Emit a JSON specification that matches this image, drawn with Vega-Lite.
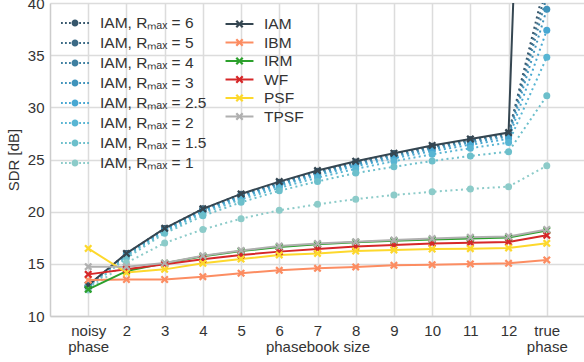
{
  "$schema": "https://vega.github.io/schema/vega-lite/v6.json",
  "width": 535,
  "height": 313,
  "autosize": "none",
  "padding": {"left": 50, "top": 3, "right": 0, "bottom": 46},
  "background": "white",
  "config": {
    "font": "Liberation Sans",
    "view": {"stroke": null},
    "axis": {
      "labelFontSize": 15, "titleFontSize": 15, "labelColor": "#333333", "titleColor": "#333333",
      "titleFontWeight": "normal", "gridColor": "#dcdcdc", "gridWidth": 1.5, "domainColor": "#cccccc",
      "domainWidth": 1.5, "tickSize": 0, "labelFont": "Liberation Sans", "titleFont": "Liberation Sans"
    },
    "legend": {"labelFont": "Liberation Sans", "labelFontSize": 15.5, "labelColor": "#333333", "padding": 0}
  },
  "datasets": {
    "r": [
      {"s": "IAM, Rₘₐₓ = 6", "x": "noisy phase", "y": 12.9}, {"s": "IAM, Rₘₐₓ = 6", "x": "2", "y": 15.98}, {"s": "IAM, Rₘₐₓ = 6", "x": "3", "y": 18.38}, {"s": "IAM, Rₘₐₓ = 6", "x": "4", "y": 20.27}, {"s": "IAM, Rₘₐₓ = 6", "x": "5", "y": 21.67}, {"s": "IAM, Rₘₐₓ = 6", "x": "6", "y": 22.82}, {"s": "IAM, Rₘₐₓ = 6", "x": "7", "y": 23.87}, {"s": "IAM, Rₘₐₓ = 6", "x": "8", "y": 24.77}, {"s": "IAM, Rₘₐₓ = 6", "x": "9", "y": 25.57}, {"s": "IAM, Rₘₐₓ = 6", "x": "10", "y": 26.27}, {"s": "IAM, Rₘₐₓ = 6", "x": "11", "y": 26.92}, {"s": "IAM, Rₘₐₓ = 6", "x": "12", "y": 27.52}, {"s": "IAM, Rₘₐₓ = 6", "x": "true phase", "y": 42.5},
      {"s": "IAM, Rₘₐₓ = 5", "x": "noisy phase", "y": 12.9}, {"s": "IAM, Rₘₐₓ = 5", "x": "2", "y": 15.95}, {"s": "IAM, Rₘₐₓ = 5", "x": "3", "y": 18.35}, {"s": "IAM, Rₘₐₓ = 5", "x": "4", "y": 20.22}, {"s": "IAM, Rₘₐₓ = 5", "x": "5", "y": 21.62}, {"s": "IAM, Rₘₐₓ = 5", "x": "6", "y": 22.77}, {"s": "IAM, Rₘₐₓ = 5", "x": "7", "y": 23.82}, {"s": "IAM, Rₘₐₓ = 5", "x": "8", "y": 24.72}, {"s": "IAM, Rₘₐₓ = 5", "x": "9", "y": 25.5}, {"s": "IAM, Rₘₐₓ = 5", "x": "10", "y": 26.2}, {"s": "IAM, Rₘₐₓ = 5", "x": "11", "y": 26.85}, {"s": "IAM, Rₘₐₓ = 5", "x": "12", "y": 27.45}, {"s": "IAM, Rₘₐₓ = 5", "x": "true phase", "y": 41.5},
      {"s": "IAM, Rₘₐₓ = 4", "x": "noisy phase", "y": 12.88}, {"s": "IAM, Rₘₐₓ = 4", "x": "2", "y": 15.92}, {"s": "IAM, Rₘₐₓ = 4", "x": "3", "y": 18.3}, {"s": "IAM, Rₘₐₓ = 4", "x": "4", "y": 20.17}, {"s": "IAM, Rₘₐₓ = 4", "x": "5", "y": 21.56}, {"s": "IAM, Rₘₐₓ = 4", "x": "6", "y": 22.7}, {"s": "IAM, Rₘₐₓ = 4", "x": "7", "y": 23.75}, {"s": "IAM, Rₘₐₓ = 4", "x": "8", "y": 24.64}, {"s": "IAM, Rₘₐₓ = 4", "x": "9", "y": 25.42}, {"s": "IAM, Rₘₐₓ = 4", "x": "10", "y": 26.12}, {"s": "IAM, Rₘₐₓ = 4", "x": "11", "y": 26.76}, {"s": "IAM, Rₘₐₓ = 4", "x": "12", "y": 27.36}, {"s": "IAM, Rₘₐₓ = 4", "x": "true phase", "y": 40.6},
      {"s": "IAM, Rₘₐₓ = 3", "x": "noisy phase", "y": 12.86}, {"s": "IAM, Rₘₐₓ = 3", "x": "2", "y": 15.88}, {"s": "IAM, Rₘₐₓ = 3", "x": "3", "y": 18.25}, {"s": "IAM, Rₘₐₓ = 3", "x": "4", "y": 20.1}, {"s": "IAM, Rₘₐₓ = 3", "x": "5", "y": 21.47}, {"s": "IAM, Rₘₐₓ = 3", "x": "6", "y": 22.6}, {"s": "IAM, Rₘₐₓ = 3", "x": "7", "y": 23.63}, {"s": "IAM, Rₘₐₓ = 3", "x": "8", "y": 24.52}, {"s": "IAM, Rₘₐₓ = 3", "x": "9", "y": 25.3}, {"s": "IAM, Rₘₐₓ = 3", "x": "10", "y": 25.99}, {"s": "IAM, Rₘₐₓ = 3", "x": "11", "y": 26.62}, {"s": "IAM, Rₘₐₓ = 3", "x": "12", "y": 27.2}, {"s": "IAM, Rₘₐₓ = 3", "x": "true phase", "y": 39.4},
      {"s": "IAM, Rₘₐₓ = 2.5", "x": "noisy phase", "y": 12.83}, {"s": "IAM, Rₘₐₓ = 2.5", "x": "2", "y": 15.83}, {"s": "IAM, Rₘₐₓ = 2.5", "x": "3", "y": 18.18}, {"s": "IAM, Rₘₐₓ = 2.5", "x": "4", "y": 20.0}, {"s": "IAM, Rₘₐₓ = 2.5", "x": "5", "y": 21.36}, {"s": "IAM, Rₘₐₓ = 2.5", "x": "6", "y": 22.47}, {"s": "IAM, Rₘₐₓ = 2.5", "x": "7", "y": 23.49}, {"s": "IAM, Rₘₐₓ = 2.5", "x": "8", "y": 24.36}, {"s": "IAM, Rₘₐₓ = 2.5", "x": "9", "y": 25.12}, {"s": "IAM, Rₘₐₓ = 2.5", "x": "10", "y": 25.8}, {"s": "IAM, Rₘₐₓ = 2.5", "x": "11", "y": 26.42}, {"s": "IAM, Rₘₐₓ = 2.5", "x": "12", "y": 26.98}, {"s": "IAM, Rₘₐₓ = 2.5", "x": "true phase", "y": 37.4},
      {"s": "IAM, Rₘₐₓ = 2", "x": "noisy phase", "y": 12.78}, {"s": "IAM, Rₘₐₓ = 2", "x": "2", "y": 15.75}, {"s": "IAM, Rₘₐₓ = 2", "x": "3", "y": 18.08}, {"s": "IAM, Rₘₐₓ = 2", "x": "4", "y": 19.85}, {"s": "IAM, Rₘₐₓ = 2", "x": "5", "y": 21.18}, {"s": "IAM, Rₘₐₓ = 2", "x": "6", "y": 22.27}, {"s": "IAM, Rₘₐₓ = 2", "x": "7", "y": 23.26}, {"s": "IAM, Rₘₐₓ = 2", "x": "8", "y": 24.1}, {"s": "IAM, Rₘₐₓ = 2", "x": "9", "y": 24.84}, {"s": "IAM, Rₘₐₓ = 2", "x": "10", "y": 25.5}, {"s": "IAM, Rₘₐₓ = 2", "x": "11", "y": 26.08}, {"s": "IAM, Rₘₐₓ = 2", "x": "12", "y": 26.62}, {"s": "IAM, Rₘₐₓ = 2", "x": "true phase", "y": 34.8},
      {"s": "IAM, Rₘₐₓ = 1.5", "x": "noisy phase", "y": 12.68}, {"s": "IAM, Rₘₐₓ = 1.5", "x": "2", "y": 15.55}, {"s": "IAM, Rₘₐₓ = 1.5", "x": "3", "y": 17.93}, {"s": "IAM, Rₘₐₓ = 1.5", "x": "4", "y": 19.6}, {"s": "IAM, Rₘₐₓ = 1.5", "x": "5", "y": 20.9}, {"s": "IAM, Rₘₐₓ = 1.5", "x": "6", "y": 22.0}, {"s": "IAM, Rₘₐₓ = 1.5", "x": "7", "y": 22.9}, {"s": "IAM, Rₘₐₓ = 1.5", "x": "8", "y": 23.7}, {"s": "IAM, Rₘₐₓ = 1.5", "x": "9", "y": 24.3}, {"s": "IAM, Rₘₐₓ = 1.5", "x": "10", "y": 24.86}, {"s": "IAM, Rₘₐₓ = 1.5", "x": "11", "y": 25.34}, {"s": "IAM, Rₘₐₓ = 1.5", "x": "12", "y": 25.75}, {"s": "IAM, Rₘₐₓ = 1.5", "x": "true phase", "y": 31.1},
      {"s": "IAM, Rₘₐₓ = 1", "x": "noisy phase", "y": 12.5}, {"s": "IAM, Rₘₐₓ = 1", "x": "2", "y": 15.1}, {"s": "IAM, Rₘₐₓ = 1", "x": "3", "y": 17.0}, {"s": "IAM, Rₘₐₓ = 1", "x": "4", "y": 18.3}, {"s": "IAM, Rₘₐₓ = 1", "x": "5", "y": 19.33}, {"s": "IAM, Rₘₐₓ = 1", "x": "6", "y": 20.13}, {"s": "IAM, Rₘₐₓ = 1", "x": "7", "y": 20.7}, {"s": "IAM, Rₘₐₓ = 1", "x": "8", "y": 21.2}, {"s": "IAM, Rₘₐₓ = 1", "x": "9", "y": 21.6}, {"s": "IAM, Rₘₐₓ = 1", "x": "10", "y": 21.9}, {"s": "IAM, Rₘₐₓ = 1", "x": "11", "y": 22.18}, {"s": "IAM, Rₘₐₓ = 1", "x": "12", "y": 22.4}, {"s": "IAM, Rₘₐₓ = 1", "x": "true phase", "y": 24.4}
    ],
    "m": [
      {"s": "IAM", "x": "noisy phase", "y": 12.95}, {"s": "IAM", "x": "2", "y": 16.0}, {"s": "IAM", "x": "3", "y": 18.4}, {"s": "IAM", "x": "4", "y": 20.27}, {"s": "IAM", "x": "5", "y": 21.7}, {"s": "IAM", "x": "6", "y": 22.88}, {"s": "IAM", "x": "7", "y": 23.94}, {"s": "IAM", "x": "8", "y": 24.83}, {"s": "IAM", "x": "9", "y": 25.6}, {"s": "IAM", "x": "10", "y": 26.35}, {"s": "IAM", "x": "11", "y": 26.97}, {"s": "IAM", "x": "12", "y": 27.58}, {"s": "IAM", "x": "true phase", "y": 130},
      {"s": "IBM", "x": "noisy phase", "y": 13.45}, {"s": "IBM", "x": "2", "y": 13.5}, {"s": "IBM", "x": "3", "y": 13.5}, {"s": "IBM", "x": "4", "y": 13.77}, {"s": "IBM", "x": "5", "y": 14.1}, {"s": "IBM", "x": "6", "y": 14.38}, {"s": "IBM", "x": "7", "y": 14.57}, {"s": "IBM", "x": "8", "y": 14.7}, {"s": "IBM", "x": "9", "y": 14.86}, {"s": "IBM", "x": "10", "y": 14.92}, {"s": "IBM", "x": "11", "y": 14.99}, {"s": "IBM", "x": "12", "y": 15.05}, {"s": "IBM", "x": "true phase", "y": 15.37},
      {"s": "IRM", "x": "noisy phase", "y": 12.56}, {"s": "IRM", "x": "2", "y": 14.3}, {"s": "IRM", "x": "3", "y": 15.05}, {"s": "IRM", "x": "4", "y": 15.72}, {"s": "IRM", "x": "5", "y": 16.22}, {"s": "IRM", "x": "6", "y": 16.62}, {"s": "IRM", "x": "7", "y": 16.87}, {"s": "IRM", "x": "8", "y": 17.07}, {"s": "IRM", "x": "9", "y": 17.22}, {"s": "IRM", "x": "10", "y": 17.33}, {"s": "IRM", "x": "11", "y": 17.43}, {"s": "IRM", "x": "12", "y": 17.52}, {"s": "IRM", "x": "true phase", "y": 18.2},
      {"s": "WF", "x": "noisy phase", "y": 13.99}, {"s": "WF", "x": "2", "y": 14.47}, {"s": "WF", "x": "3", "y": 14.95}, {"s": "WF", "x": "4", "y": 15.43}, {"s": "WF", "x": "5", "y": 15.85}, {"s": "WF", "x": "6", "y": 16.17}, {"s": "WF", "x": "7", "y": 16.42}, {"s": "WF", "x": "8", "y": 16.65}, {"s": "WF", "x": "9", "y": 16.8}, {"s": "WF", "x": "10", "y": 16.96}, {"s": "WF", "x": "11", "y": 17.03}, {"s": "WF", "x": "12", "y": 17.1}, {"s": "WF", "x": "true phase", "y": 17.73},
      {"s": "PSF", "x": "noisy phase", "y": 16.48}, {"s": "PSF", "x": "2", "y": 14.16}, {"s": "PSF", "x": "3", "y": 14.47}, {"s": "PSF", "x": "4", "y": 15.05}, {"s": "PSF", "x": "5", "y": 15.46}, {"s": "PSF", "x": "6", "y": 15.85}, {"s": "PSF", "x": "7", "y": 16.0}, {"s": "PSF", "x": "8", "y": 16.23}, {"s": "PSF", "x": "9", "y": 16.33}, {"s": "PSF", "x": "10", "y": 16.42}, {"s": "PSF", "x": "11", "y": 16.45}, {"s": "PSF", "x": "12", "y": 16.52}, {"s": "PSF", "x": "true phase", "y": 16.97},
      {"s": "TPSF", "x": "noisy phase", "y": 14.73}, {"s": "TPSF", "x": "2", "y": 14.73}, {"s": "TPSF", "x": "3", "y": 15.08}, {"s": "TPSF", "x": "4", "y": 15.78}, {"s": "TPSF", "x": "5", "y": 16.28}, {"s": "TPSF", "x": "6", "y": 16.7}, {"s": "TPSF", "x": "7", "y": 16.95}, {"s": "TPSF", "x": "8", "y": 17.12}, {"s": "TPSF", "x": "9", "y": 17.28}, {"s": "TPSF", "x": "10", "y": 17.42}, {"s": "TPSF", "x": "11", "y": 17.55}, {"s": "TPSF", "x": "12", "y": 17.63}, {"s": "TPSF", "x": "true phase", "y": 18.3}
    ]
  },
  "encoding": {
    "x": {
      "field": "x", "type": "ordinal", "sort": null,
      "scale": {"type": "point", "padding": 1, "domain": ["noisy phase", "2", "3", "4", "5", "6", "7", "8", "9", "10", "11", "12", "true phase"]},
      "axis": {"title": "phasebook size", "labelAngle": 0, "labelExpr": "split(datum.label, ' ')", "labelLineHeight": 16, "labelPadding": 7, "grid": true, "titleY": 23, "titleBaseline": "top"}
    },
    "y": {
      "field": "y", "type": "quantitative",
      "scale": {"domain": [10, 40], "nice": false, "zero": false},
      "axis": {"title": "SDR [dB]", "values": [10, 15, 20, 25, 30, 35, 40], "labelPadding": 6, "grid": true, "titlePadding": 6}
    }
  },
  "layer": [
    {
      "data": {"name": "r"},
      "encoding": {
        "color": {
          "field": "s", "type": "nominal",
          "scale": {
            "domain": ["IAM, Rₘₐₓ = 6", "IAM, Rₘₐₓ = 5", "IAM, Rₘₐₓ = 4", "IAM, Rₘₐₓ = 3", "IAM, Rₘₐₓ = 2.5", "IAM, Rₘₐₓ = 2", "IAM, Rₘₐₓ = 1.5", "IAM, Rₘₐₓ = 1"],
            "range": ["#36566b", "#3b6a85", "#3e7fa0", "#3f93bb", "#47a7d2", "#58b5d3", "#6cbfcb", "#8ccbc9"]
          },
          "legend": {
            "title": null, "orient": "none", "legendX": 15, "legendY": 10,
            "symbolType": "M-1.4,-0.09h0.18v0.18h-0.18ZM-1,-0.09h0.18v0.18h-0.18ZM-0.6,-0.09h0.18v0.18h-0.18ZM0.42,-0.09h0.18v0.18h-0.18ZM0.82,-0.09h0.18v0.18h-0.18ZM1.22,-0.09h0.18v0.18h-0.18ZM-0.35,0A0.35,0.35,0,1,0,0.35,0A0.35,0.35,0,1,0,-0.35,0Z",
            "symbolSize": 400, "symbolStrokeWidth": 0,
            "labelOffset": 15, "rowPadding": 1,
            "encode": {"symbols": {"update": {"fill": {"scale": "layer_0_color", "field": "value"}, "stroke": {"value": "transparent"}, "opacity": {"value": 1}}}}
          }
        }
      },
      "layer": [
        {"mark": {"type": "line", "strokeWidth": 2, "strokeDash": [2, 3.3], "clip": true}},
        {"mark": {"type": "point", "shape": "circle", "filled": true, "size": 49, "opacity": 1, "clip": true}}
      ]
    },
    {
      "data": {"name": "m"},
      "encoding": {
        "color": {
          "field": "s", "type": "nominal",
          "scale": {
            "domain": ["IAM", "IBM", "IRM", "WF", "PSF", "TPSF"],
            "range": ["#354651", "#fc8d62", "#2ca02c", "#d62728", "#fdd82c", "#b0b0b0"]
          },
          "legend": {
            "title": null, "orient": "none", "legendX": 180, "legendY": 11.5,
            "symbolType": "M-1.47,-0.105H1.47V0.105H-1.47ZM-0.42,-0.252L-0.252,-0.42L0,-0.168L0.252,-0.42L0.42,-0.252L0.168,0L0.42,0.252L0.252,0.42L0,0.168L-0.252,0.42L-0.42,0.252L-0.168,0Z",
            "symbolSize": 361, "symbolStrokeWidth": 0,
            "labelOffset": 15, "rowPadding": 0.5,
            "encode": {"symbols": {"update": {"fill": {"scale": "layer_1_color", "field": "value"}, "stroke": {"value": "transparent"}, "opacity": {"value": 1}}}}
          }
        }
      },
      "layer": [
        {"mark": {"type": "line", "strokeWidth": 2, "clip": true}},
        {"mark": {"type": "point", "shape": "M-1,-0.6L-0.6,-1L0,-0.4L0.6,-1L1,-0.6L0.4,0L1,0.6L0.6,1L0,0.4L-0.6,1L-1,0.6L-0.4,0Z", "filled": true, "size": 64, "opacity": 1, "clip": true}}
      ]
    }
  ],
  "resolve": {"scale": {"color": "independent"}}
}
